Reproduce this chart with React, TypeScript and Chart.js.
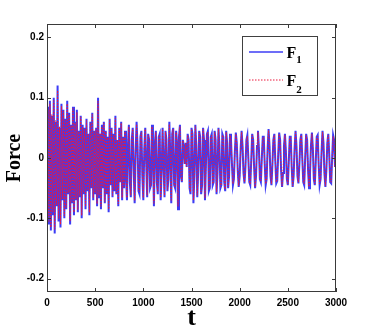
import React, { useEffect, useRef } from "react";
import { Chart, registerables } from "chart.js";

Chart.register(...registerables);

// Sampling interval of the signal (time units)
const T_STEP = 10;

// F1 samples, t = 0, 10, 20, ... 3000
const F1 = [
  0.000, 0.085, -0.110, 0.095, -0.120, 0.070, -0.095, 0.100, -0.125, 0.060,
  -0.080, 0.120, -0.105, 0.050, -0.115, 0.090, -0.070, 0.080, -0.100, 0.065,
  -0.085, 0.095, -0.060, 0.075, -0.110, 0.055, -0.075, 0.085, -0.095, 0.060,
  -0.070, 0.080, -0.090, 0.045, -0.065, 0.070, -0.100, 0.055, -0.060, 0.050,
  -0.085, 0.065, -0.055, 0.040, -0.095, 0.060, -0.050, 0.075, -0.070, 0.045,
  -0.060, 0.050, -0.080, 0.100, -0.065, 0.040, -0.085, 0.055, -0.050, 0.060,
  -0.075, 0.045, -0.060, 0.035, -0.090, 0.065, -0.045, 0.050, -0.065, 0.040,
  -0.055, 0.070, -0.060, 0.030, -0.080, 0.050, -0.040, 0.060, -0.070, 0.035,
  -0.050, 0.045, -0.030, -0.070, 0.020, 0.055, -0.040, -0.065, 0.030, 0.050,
  -0.020, -0.075, 0.010, 0.060, 0.020, -0.055, -0.060, 0.035, 0.045, -0.030,
  -0.070, 0.015, 0.050, -0.010, -0.065, 0.040, 0.030, -0.050, -0.045, 0.055,
  0.010, -0.080, 0.025, 0.045, -0.040, -0.060, 0.035, 0.040, -0.070, -0.020,
  0.050, -0.015, -0.065, 0.045, 0.030, -0.055, -0.035, 0.060, 0.005, -0.075,
  0.040, 0.050, -0.045, -0.050, 0.045, 0.025, -0.085, 0.035, 0.055, -0.030,
  -0.040, 0.030, 0.020, -0.010, 0.025, -0.015, 0.040, 0.030, -0.050, -0.060,
  0.050, 0.040, -0.075, -0.030, 0.055, 0.020, -0.065, -0.020, 0.045, 0.035,
  -0.060, -0.045, 0.050, 0.030, -0.070, -0.010, 0.040, 0.045, -0.055, -0.050,
  0.035, 0.040, -0.045, -0.040, 0.045, 0.030, -0.060, -0.025, 0.050, 0.020,
  -0.050, -0.045, 0.040, 0.035, -0.040, -0.055, 0.045, 0.025, -0.050, -0.030,
  0.040, 0.030, -0.010, -0.045, -0.035, 0.010, 0.042, 0.025, -0.020, -0.048,
  -0.030, 0.015, 0.045, 0.020, -0.025, -0.042, -0.015, 0.030, 0.038, 0.000,
  -0.040, -0.045, -0.005, 0.040, 0.030, -0.015, -0.050, -0.030, 0.020, 0.045,
  0.015, -0.035, -0.040, 0.000, 0.035, 0.035, -0.010, -0.045, -0.035, 0.015,
  0.048, 0.020, -0.030, -0.045, -0.010, 0.030, 0.040, -0.005, -0.042, -0.038,
  0.005, 0.042, 0.030, -0.020, -0.048, -0.025, 0.020, 0.040, 0.010, -0.035,
  -0.045, -0.005, 0.035, 0.035, -0.015, -0.048, -0.030, 0.015, 0.045, 0.020,
  -0.030, -0.042, -0.010, 0.030, 0.040, 0.000, -0.040, -0.045, 0.000, 0.040,
  0.030, -0.020, -0.050, -0.025, 0.020, 0.042, 0.015, -0.035, -0.045, -0.005,
  0.035, 0.038, -0.010, -0.045, -0.035, 0.010, 0.045, 0.025, -0.025, -0.048,
  -0.020, 0.025, 0.040, 0.005, -0.040, -0.042, 0.000, 0.038, 0.030, -0.015,
  0.010,
];

// F2 samples, t = 0, 10, 20, ... 3000
const F2 = [
  0.000, 0.080, -0.105, 0.090, -0.115, 0.072, -0.090, 0.095, -0.118, 0.062,
  -0.078, 0.112, -0.100, 0.052, -0.110, 0.086, -0.068, 0.078, -0.096, 0.062,
  -0.082, 0.090, -0.058, 0.072, -0.104, 0.054, -0.072, 0.082, -0.090, 0.058,
  -0.068, 0.076, -0.086, 0.044, -0.062, 0.068, -0.095, 0.052, -0.058, 0.048,
  -0.080, 0.062, -0.052, 0.040, -0.090, 0.058, -0.048, 0.072, -0.066, 0.044,
  -0.058, 0.048, -0.076, 0.094, -0.062, 0.040, -0.080, 0.052, -0.048, 0.058,
  -0.072, 0.044, -0.058, 0.034, -0.085, 0.062, -0.044, 0.048, -0.062, 0.038,
  -0.052, 0.066, -0.058, 0.030, -0.076, 0.048, -0.040, 0.058, -0.066, 0.034,
  -0.048, 0.044, -0.028, -0.066, 0.020, 0.052, -0.038, -0.062, 0.030, 0.048,
  -0.020, -0.070, 0.010, 0.056, 0.020, -0.052, -0.056, 0.034, 0.042, -0.028,
  -0.066, 0.015, 0.048, -0.010, -0.062, 0.038, 0.030, -0.048, -0.043, 0.052,
  0.010, -0.075, 0.024, 0.043, -0.038, -0.056, 0.034, 0.038, -0.066, -0.020,
  0.048, -0.015, -0.062, 0.043, 0.029, -0.052, -0.034, 0.056, 0.005, -0.070,
  0.038, 0.048, -0.043, -0.048, 0.043, 0.024, -0.080, 0.034, 0.052, -0.029,
  -0.038, 0.029, 0.019, -0.010, 0.024, -0.015, 0.038, 0.029, -0.048, -0.056,
  0.048, 0.038, -0.070, -0.029, 0.052, 0.019, -0.062, -0.019, 0.043, 0.034,
  -0.056, -0.043, 0.048, 0.029, -0.066, -0.010, 0.038, 0.043, -0.052, -0.048,
  0.034, 0.038, -0.043, -0.038, 0.043, 0.029, -0.056, -0.024, 0.048, 0.019,
  -0.048, -0.043, 0.038, 0.034, -0.038, -0.052, 0.043, 0.024, -0.048, -0.029,
  0.038, 0.029, -0.010, -0.043, -0.034, 0.010, 0.040, 0.024, -0.019, -0.046,
  -0.029, 0.015, 0.043, 0.019, -0.024, -0.040, -0.015, 0.029, 0.036, 0.000,
  -0.038, -0.043, -0.005, 0.038, 0.029, -0.015, -0.048, -0.029, 0.019, 0.043,
  0.015, -0.034, -0.038, 0.000, 0.034, 0.034, -0.010, -0.043, -0.034, 0.015,
  0.046, 0.019, -0.029, -0.043, -0.010, 0.029, 0.038, -0.005, -0.040, -0.036,
  0.005, 0.040, 0.029, -0.019, -0.046, -0.024, 0.019, 0.038, 0.010, -0.034,
  -0.043, -0.005, 0.034, 0.034, -0.015, -0.046, -0.029, 0.015, 0.043, 0.019,
  -0.029, -0.040, -0.010, 0.029, 0.038, 0.000, -0.038, -0.043, 0.000, 0.038,
  0.029, -0.019, -0.048, -0.024, 0.019, 0.040, 0.015, -0.034, -0.043, -0.005,
  0.034, 0.036, -0.010, -0.043, -0.034, 0.010, 0.043, 0.024, -0.024, -0.046,
  -0.019, 0.024, 0.038, 0.005, -0.038, -0.040, 0.000, 0.036, 0.029, -0.015,
  0.010,
];

const SERIES_NAMES = ["F", "F"];
const SERIES_SUBS = ["1", "2"];

const X_TICKS = [0, 500, 1000, 1500, 2000, 2500, 3000];
const X_TICK_LABELS = ["0", "500", "1000", "1500", "2000", "2500", "3000"];
const Y_TICKS = [-0.2, -0.1, 0, 0.1, 0.2];
const Y_TICK_LABELS = ["-0.2", "-0.1", "0", "0.1", "0.2"];
const X_MIN = 0;
const X_MAX = 3000;
const Y_MIN = -0.222;
const Y_MAX = 0.222;

const BLUE = "rgb(60,60,245)";
const RED = "rgb(235,25,60)";
const AXIS = "#3a3a3a";
const TICK_FONT = { family: "'Liberation Sans', Arial, sans-serif", size: 10, weight: "bold" as const };
const SERIF = "'Liberation Serif', 'Times New Roman', serif";

const toPoints = (arr: number[]) => arr.map((y, i) => ({ x: i * T_STEP, y }));

const framePlugin = {
  id: "matlabFrame",
  afterDatasetsDraw(chart: any) {
    const { ctx, chartArea, scales } = chart;
    const { left, right, top, bottom } = chartArea;
    ctx.save();
    ctx.strokeStyle = AXIS;
    ctx.lineWidth = 1;
    ctx.strokeRect(left + 0.5, top + 0.5, right - left - 1, bottom - top - 1);
    const tl = 4;
    ctx.beginPath();
    X_TICKS.forEach((v) => {
      const x = Math.round(scales.x.getPixelForValue(v)) + 0.5;
      ctx.moveTo(x, bottom);
      ctx.lineTo(x, bottom - tl);
      ctx.moveTo(x, top);
      ctx.lineTo(x, top + tl);
    });
    Y_TICKS.forEach((v) => {
      const y = Math.round(scales.y.getPixelForValue(v)) + 0.5;
      ctx.moveTo(left, y);
      ctx.lineTo(left + tl, y);
      ctx.moveTo(right, y);
      ctx.lineTo(right - tl, y);
    });
    ctx.stroke();

    // legend
    const bx = right - 94;
    const by = top + 11.5;
    const bw = 75;
    const bh = 59;
    ctx.fillStyle = "#ffffff";
    ctx.fillRect(bx, by, bw, bh);
    ctx.strokeStyle = "#404040";
    ctx.strokeRect(Math.round(bx) + 0.5, Math.round(by) + 0.5, bw, bh);
    const rows = [
      { y: by + 16.5, color: BLUE, dash: [] as number[], width: 1.5 },
      { y: by + 44.5, color: RED, dash: [1.5, 1.5], width: 1 },
    ];
    rows.forEach((r, i) => {
      ctx.beginPath();
      ctx.setLineDash(r.dash);
      ctx.strokeStyle = r.color;
      ctx.lineWidth = r.width;
      ctx.moveTo(bx + 7, r.y);
      ctx.lineTo(bx + 41, r.y);
      ctx.stroke();
      ctx.setLineDash([]);
      ctx.fillStyle = "#000";
      ctx.textBaseline = "alphabetic";
      ctx.textAlign = "left";
      ctx.font = `bold 16px ${SERIF}`;
      ctx.fillText(SERIES_NAMES[i], bx + 44.5, r.y + 5.5);
      const w = ctx.measureText(SERIES_NAMES[i]).width;
      ctx.font = `bold 11px ${SERIF}`;
      ctx.fillText(SERIES_SUBS[i], bx + 44.5 + w, r.y + 11 + i * 2);
    });
    ctx.restore();
  },
};

export default function App() {
  const ref = useRef<HTMLCanvasElement | null>(null);
  useEffect(() => {
    document.body.style.margin = "0";
    const canvas = ref.current;
    if (!canvas) return;
    const chart = new Chart(canvas, {
      type: "line",
      data: {
        datasets: [
          {
            label: "F1",
            data: toPoints(F1),
            borderColor: BLUE,
            borderWidth: 2,
            pointRadius: 0,
            tension: 0,
            order: 2,
          },
          {
            label: "F2",
            data: toPoints(F2),
            borderColor: RED,
            borderWidth: 1,
            borderDash: [1.5, 1.5],
            pointRadius: 0,
            tension: 0,
            order: 1,
          },
        ],
      },
      options: {
        animation: false,
        responsive: false,
        devicePixelRatio: 1,
        layout: { padding: { left: 0, right: 35, top: 24, bottom: 0 } },
        plugins: { legend: { display: false }, tooltip: { enabled: false } },
        scales: {
          x: {
            type: "linear",
            min: X_MIN,
            max: X_MAX,
            grid: { display: false, drawTicks: false },
            border: { display: false },
            afterBuildTicks: (s: any) => {
              s.ticks = X_TICKS.map((v) => ({ value: v }));
            },
            afterFit: (s: any) => {
              s.height = 39;
            },
            ticks: {
              color: "#000",
              font: TICK_FONT,
              padding: 5,
              maxRotation: 0,
              autoSkip: false,
              callback: (v: any) => X_TICK_LABELS[X_TICKS.indexOf(Number(v))] ?? "",
            },
            title: {
              display: true,
              text: "t",
              color: "#000",
              font: { family: SERIF, size: 26, weight: "bold", lineHeight: 1 },
              padding: { top: 0, bottom: 0 },
            },
          },
          y: {
            type: "linear",
            min: Y_MIN,
            max: Y_MAX,
            grid: { display: false, drawTicks: false },
            border: { display: false },
            afterBuildTicks: (s: any) => {
              s.ticks = Y_TICKS.map((v) => ({ value: v }));
            },
            afterFit: (s: any) => {
              s.width = 47;
            },
            ticks: {
              color: "#000",
              font: TICK_FONT,
              padding: 3,
              autoSkip: false,
              callback: (v: any) => {
                const i = Y_TICKS.findIndex((t) => Math.abs(t - Number(v)) < 1e-9);
                return i >= 0 ? Y_TICK_LABELS[i] : "";
              },
            },
            title: {
              display: true,
              text: "Force",
              color: "#000",
              font: { family: SERIF, size: 20, weight: "bold", lineHeight: 1 },
              padding: { top: 5, bottom: 0 },
            },
          },
        },
      },
      plugins: [framePlugin],
    });
    return () => chart.destroy();
  }, []);
  return (
    <canvas
      ref={ref}
      width={371}
      height={331}
      style={{ display: "block", width: 371, height: 331 }}
    />
  );
}
